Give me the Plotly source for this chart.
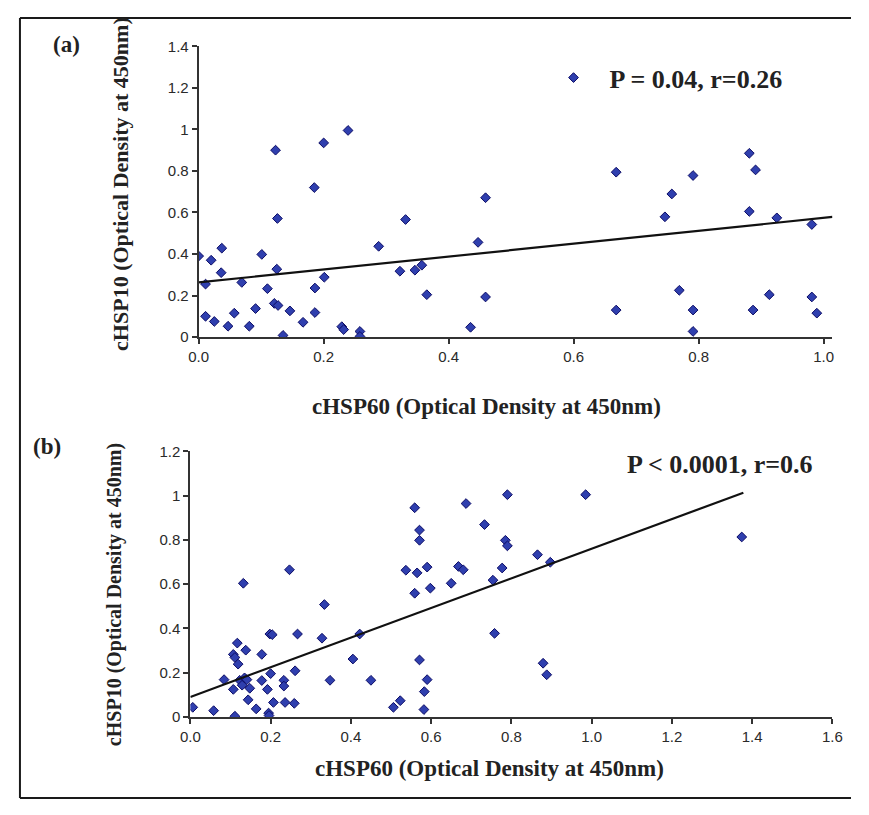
import plotly.graph_objects as go

# ---------------- data ----------------
# Panel (a)
hsp60_a = [0.000, 0.011, 0.020, 0.037, 0.036, 0.011, 0.025, 0.047, 0.057, 0.069,
           0.081, 0.091, 0.101, 0.110, 0.123, 0.126, 0.125, 0.121, 0.127, 0.135,
           0.146, 0.167, 0.185, 0.186, 0.186, 0.200, 0.201, 0.239, 0.229, 0.232,
           0.258, 0.258, 0.288, 0.331, 0.322, 0.346, 0.357, 0.365, 0.459, 0.447,
           0.459, 0.435, 0.668, 0.668, 0.757, 0.746, 0.791, 0.769, 0.791, 0.791,
           0.881, 0.891, 0.881, 0.925, 0.913, 0.887, 0.981, 0.981, 0.989]
hsp10_a = [0.390, 0.255, 0.370, 0.428, 0.310, 0.100, 0.075, 0.052, 0.115, 0.263,
           0.052, 0.137, 0.398, 0.233, 0.900, 0.571, 0.327, 0.162, 0.152, 0.008,
           0.126, 0.071, 0.720, 0.236, 0.118, 0.935, 0.288, 0.995, 0.050, 0.036,
           0.027, 0.003, 0.437, 0.566, 0.317, 0.322, 0.346, 0.204, 0.671, 0.456,
           0.193, 0.047, 0.794, 0.130, 0.689, 0.579, 0.778, 0.225, 0.130, 0.027,
           0.885, 0.805, 0.605, 0.574, 0.204, 0.130, 0.542, 0.193, 0.115]
trend_a = {"intercept": 0.263, "slope": 0.311, "x_end": [0.0, 1.014]}
label_a = "P = 0.04, r=0.26"

# Panel (b)
hsp60_b = [0.006, 0.058, 0.084, 0.111, 0.107, 0.107, 0.111, 0.117, 0.119, 0.132,
           0.138, 0.123, 0.129, 0.135, 0.141, 0.148, 0.144, 0.164, 0.178, 0.178,
           0.192, 0.195, 0.196, 0.198, 0.204, 0.200, 0.207, 0.233, 0.233, 0.236,
           0.259, 0.247, 0.261, 0.267, 0.328, 0.334, 0.348, 0.422, 0.405, 0.450,
           0.506, 0.523, 0.537, 0.559, 0.571, 0.571, 0.559, 0.565, 0.590, 0.598,
           0.571, 0.590, 0.583, 0.582, 0.687, 0.790, 0.985, 0.733, 0.785, 0.790,
           0.865, 0.897, 0.668, 0.680, 0.777, 0.650, 0.754, 0.758, 0.879, 0.888,
           1.374]
hsp10_b = [0.044, 0.029, 0.169, 0.004, 0.125, 0.283, 0.269, 0.334, 0.239, 0.604,
           0.302, 0.166, 0.144, 0.177, 0.169, 0.130, 0.078, 0.037, 0.283, 0.165,
           0.125, 0.018, 0.007, 0.375, 0.372, 0.196, 0.066, 0.166, 0.140, 0.066,
           0.062, 0.665, 0.209, 0.375, 0.356, 0.508, 0.166, 0.375, 0.262, 0.166,
           0.044, 0.074, 0.663, 0.945, 0.844, 0.798, 0.559, 0.651, 0.677, 0.582,
           0.258, 0.169, 0.115, 0.034, 0.964, 1.004, 1.004, 0.869, 0.798, 0.773,
           0.733, 0.699, 0.680, 0.665, 0.673, 0.604, 0.618, 0.378, 0.243, 0.191,
           0.813]
trend_b = {"intercept": 0.091, "slope": 0.669, "x_end": [0.0, 1.378]}
label_b = "P < 0.0001, r=0.6"

xticks_a = [0.0, 0.2, 0.4, 0.6, 0.8, 1.0]
xticklabels_a = ["0.0", "0.2", "0.4", "0.6", "0.8", "1.0"]
yticks_a = [0, 0.2, 0.4, 0.6, 0.8, 1.0, 1.2, 1.4]
yticklabels_a = ["0", "0.2", "0.4", "0.6", "0.8", "1", "1.2", "1.4"]
xticks_b = [0.0, 0.2, 0.4, 0.6, 0.8, 1.0, 1.2, 1.4, 1.6]
xticklabels_b = ["0.0", "0.2", "0.4", "0.6", "0.8", "1.0", "1.2", "1.4", "1.6"]
yticks_b = [0, 0.2, 0.4, 0.6, 0.8, 1.0, 1.2]
yticklabels_b = ["0", "0.2", "0.4", "0.6", "0.8", "1", "1.2"]

x_title = "cHSP60 (Optical Density at 450nm)"
y_title = "cHSP10 (Optical Density at 450nm)"

# ---------------- figure ----------------
OFF = 8                      # page body margin
W, H = 869 - 2 * OFF, 815 - 2 * OFF
def px(x):
    return (x - OFF) / W
def py(y):
    return 1 - (y - OFF) / H

MARK = dict(symbol="diamond", size=7.5, color="#2f3fae",
            line=dict(color="#0c0c66", width=1))
SERIF = "Liberation Serif, Times New Roman, serif"
SANS = "Liberation Sans, Arial, sans-serif"

fig = go.Figure()
fig.add_trace(go.Scatter(x=hsp60_a, y=hsp10_a, mode="markers", marker=MARK,
                         name="<b>" + label_a + "</b>", xaxis="x", yaxis="y",
                         showlegend=True))
fa = trend_a
fig.add_trace(go.Scatter(x=fa["x_end"],
                         y=[fa["intercept"] + fa["slope"] * v for v in fa["x_end"]],
                         mode="lines", line=dict(color="#111111", width=2.2),
                         xaxis="x", yaxis="y", showlegend=False))
fig.add_trace(go.Scatter(x=hsp60_b, y=hsp10_b, mode="markers", marker=MARK,
                         name=label_b, xaxis="x2", yaxis="y2", showlegend=False))
fb = trend_b
fig.add_trace(go.Scatter(x=fb["x_end"],
                         y=[fb["intercept"] + fb["slope"] * v for v in fb["x_end"]],
                         mode="lines", line=dict(color="#111111", width=2.2),
                         xaxis="x2", yaxis="y2", showlegend=False))

axis_common = dict(showgrid=False, zeroline=False, showline=True,
                   linecolor="#333333", linewidth=2, ticks="outside",
                   ticklen=5, tickwidth=1.5, tickcolor="#333333",
                   tickfont=dict(family=SANS, size=15, color="#2a2a2a"),
                   fixedrange=True)

fig.update_layout(
    width=W, height=H,
    margin=dict(l=0, r=0, t=0, b=0),
    paper_bgcolor="white", plot_bgcolor="white",
    xaxis=dict(axis_common, domain=[px(193), px(842)], range=[0, 1.014],
               tickvals=xticks_a, ticktext=xticklabels_a, anchor="y"),
    yaxis=dict(axis_common, domain=[py(335), py(38)], range=[0, 1.4],
               tickvals=yticks_a, ticktext=yticklabels_a, anchor="x"),
    xaxis2=dict(axis_common, domain=[px(184.5), px(842)], range=[0, 1.6],
                tickvals=xticks_b, ticktext=xticklabels_b, anchor="y2"),
    yaxis2=dict(axis_common, domain=[py(723.3), py(451.7)], range=[0, 1.2],
                tickvals=yticks_b, ticktext=yticklabels_b, anchor="x2"),
    legend=dict(x=px(540), y=py(70), xanchor="left", yanchor="middle",
                bgcolor="rgba(0,0,0,0)", itemwidth=62,
                font=dict(family=SERIF, size=26, color="#222222")),
    showlegend=True,
)

def note(text, x, y, size, angle=0):
    return dict(text="<b>" + text + "</b>", x=px(x), y=py(y), xref="paper",
                yref="paper", showarrow=False, xanchor="center",
                yanchor="middle", textangle=angle,
                font=dict(family=SERIF, size=size, color="#222"))

ann = [
    note("(a)", 58, 36, 23),
    note("(b)", 38, 447, 23),
    note(x_title, 488, 406, 23),
    note(x_title, 491, 776, 23),
    note(y_title, 113, 179, 22, -90),
    note(y_title, 107, 598, 20, -90),
    note(label_b, 727, 465, 26),
]
fig.update_layout(annotations=ann)

# outer frame
frame = dict(type="line", xref="paper", yref="paper",
             line=dict(color="#1a1a1a", width=2))
fig.add_shape(frame, x0=px(10), x1=1, y0=py(9), y1=py(9))
fig.add_shape(frame, x0=px(10), x1=px(10), y0=py(9), y1=py(806))
fig.add_shape(frame, x0=px(10), x1=1, y0=py(806), y1=py(806))

fig.write_html("out.html")
